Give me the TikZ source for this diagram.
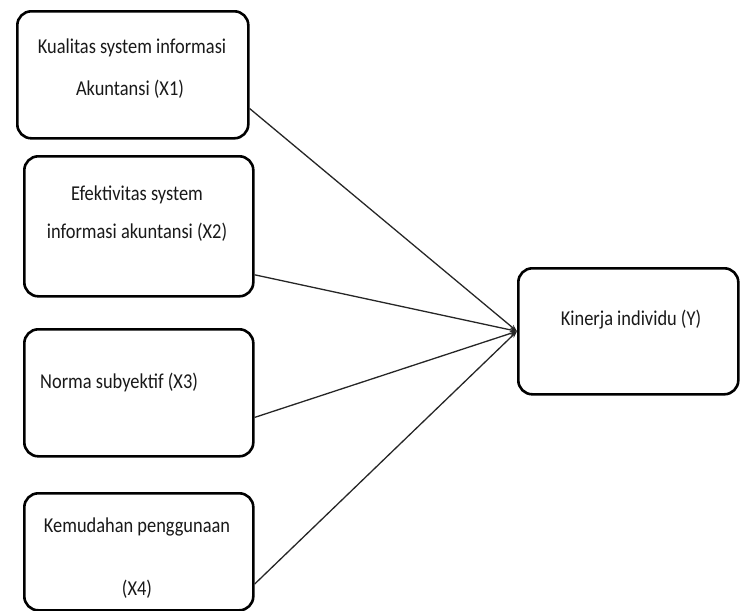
\documentclass[tikz,border=0pt]{standalone}
\usepackage{fontspec}
\setmainfont{Carlito}
\usetikzlibrary{calc,arrows.meta}
\newcommand{\tallt}[1]{\scalebox{1}[1.15]{#1}}
\begin{document}
\begin{tikzpicture}[x=1pt,y=-1pt,
  box/.style={draw=black, line width=2.6pt, rounded corners=14pt, fill=white, anchor=north west},
  lbl/.style={font=\fontsize{18.4}{21}\selectfont, text=black!90, inner sep=0pt, anchor=base},
  link/.style={draw=black!85, line width=1.3pt, -{Stealth[length=7pt,width=5pt]}}]
\useasboundingbox (0,0) rectangle (740,611);
% boxes
\node[box, minimum width=231pt, minimum height=127pt] (b1) at (16,10) {};
\node[box, minimum width=229pt, minimum height=140pt] (b2) at (23,155) {};
\node[box, minimum width=229pt, minimum height=127pt] (b3) at (23,328) {};
\node[box, minimum width=229pt, minimum height=117pt] (b4) at (23,492) {};
\node[box, minimum width=220pt, minimum height=126pt] (y) at (517,267) {};
% labels
\node[lbl] (t1a) at (132,53) {\tallt{Kualitas system informasi}};
\node[lbl] (t1b) at (130,95) {\tallt{Akuntansi (X1)}};
\node[lbl] (t2a) at (137,200) {\tallt{Efektivitas system}};
\node[lbl] (t2b) at (137,238) {\tallt{informasi akuntansi (X2)}};
\node[lbl, anchor=base west] (t3) at (40,388) {\tallt{Norma subyektif (X3)}};
\node[lbl] (t4a) at (137,532) {\tallt{Kemudahan penggunaan}};
\node[lbl] (t4b) at (137,595) {\tallt{(X4)}};
\node[lbl] (ty) at (631,325) {\tallt{Kinerja individu (Y)}};
% connectors
\coordinate (s1) at ($(b1.north east)!0.76!(b1.south east)$);
\coordinate (s2) at ($(b2.north east)!0.84!(b2.south east)$);
\coordinate (s3) at ($(b3.north east)!0.69!(b3.south east)$);
\coordinate (s4) at ($(b4.north east)!0.77!(b4.south east)$);
\draw[link] (s1) -- (y.west);
\draw[link] (s2) -- (y.west);
\draw[link] (s3) -- (y.west);
\draw[link] (s4) -- (y.west);
\end{tikzpicture}
\end{document}
